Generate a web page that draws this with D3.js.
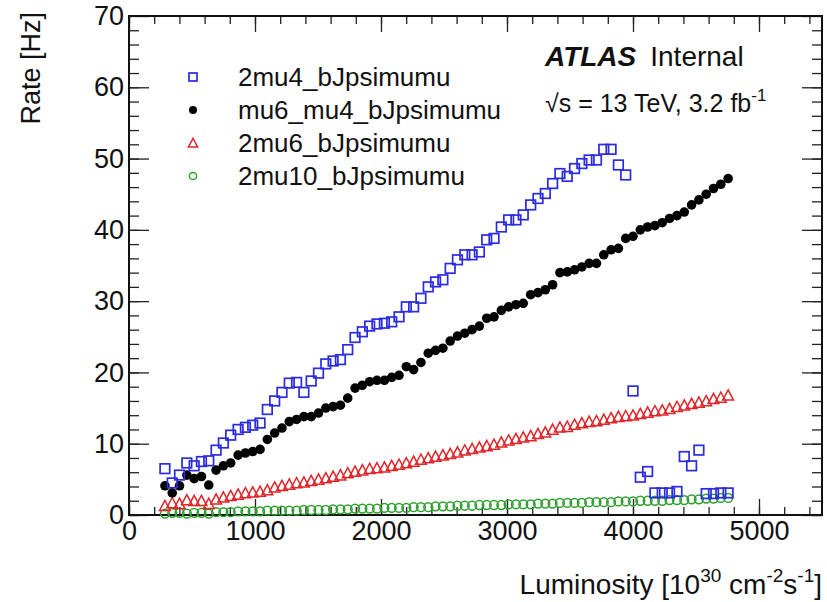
<!DOCTYPE html>
<html>
<head>
<meta charset="utf-8">
<script src="https://cdn.jsdelivr.net/npm/d3@7"></script>
<style>
  body { margin: 0; background: #fff; }
  text { font-family: "Liberation Sans", Arial, sans-serif; }
</style>
</head>
<body>
<div class="canvas"></div>
<script>
// data
var lumi = [285,343,401,459,517,575,633,691,749,807,866,924,982,1040,1098,1156,1214,1272,1330,1388,
  1446,1504,1562,1620,1678,1736,1794,1852,1910,1968,2027,2085,2143,2201,2259,2317,2375,2433,2491,2549,
  2607,2665,2723,2781,2839,2897,2955,3013,3071,3129,3188,3246,3304,3362,3420,3478,3536,3594,3652,3710,
  3768,3826,3884,3942,4000,4058,4116,4174,4232,4290,4349,4407,4465,4523,4581,4639,4697,4755];

var rate_2mu4 = [6.5,4.5,5.6,7.3,6.9,7.5,7.6,9.1,10.1,11.2,12.0,12.3,12.6,12.9,14.8,16.0,17.2,18.5,18.6,17.2,
  18.8,19.9,21.2,21.6,21.8,23.2,24.9,25.7,26.5,26.8,26.9,27.1,27.8,29.2,29.2,30.4,32.0,32.7,33.0,34.6,
  35.8,36.5,36.5,36.9,38.6,38.8,40.4,41.4,41.4,42.1,43.5,44.4,45.1,46.5,47.9,47.5,48.6,49.3,49.8,49.8,
  51.3,51.3,49.1,47.7,17.4,5.3,6.1,3.1,3.1,3.1,3.3,8.2,6.9,9.1,3.0,3.0,3.1,3.1];

var rate_mu6mu4 = [4.1,3.1,4.1,5.6,5.1,5.4,4.2,6.3,6.9,7.3,8.4,8.7,8.9,9.2,10.6,11.5,12.2,13.1,13.4,13.8,
  13.8,14.3,15.0,15.2,15.4,16.4,17.8,18.2,18.7,18.9,18.9,19.3,19.6,20.8,20.4,21.4,22.7,23.1,23.4,24.4,
  25.1,25.5,26.0,26.5,27.6,27.8,28.7,29.2,29.5,29.7,30.9,31.2,31.6,32.3,34.0,34.1,34.4,34.8,35.3,35.3,
  36.5,37.2,37.4,38.8,39.1,40.0,40.4,40.6,41.0,41.6,42.0,42.5,43.5,44.2,45.0,45.8,46.4,47.2];

var rate_2mu6 = [1.3,1.7,1.6,2.1,2.0,2.0,1.6,2.2,2.5,2.7,2.9,3.1,3.2,3.3,3.5,3.9,4.1,4.3,4.5,4.6,
  4.8,5.0,5.2,5.4,5.6,5.9,6.1,6.3,6.5,6.6,6.7,6.9,7.1,7.3,7.5,7.8,8.0,8.2,8.4,8.6,
  8.8,9.1,9.3,9.5,9.7,9.9,10.2,10.5,10.7,10.9,11.1,11.4,11.6,12.0,12.3,12.4,12.7,12.9,13.1,13.2,
  13.4,13.6,13.8,13.9,14.0,14.2,14.4,14.6,14.7,14.9,15.2,15.4,15.6,15.8,16.0,16.3,16.5,16.8];

var rate_2mu10 = [0.2,0.3,0.3,0.2,0.3,0.3,0.2,0.4,0.4,0.4,0.5,0.5,0.5,0.5,0.6,0.6,0.6,0.6,0.6,0.7,
  0.7,0.7,0.7,0.8,0.8,0.8,0.9,0.9,0.9,0.9,1.0,1.0,1.0,1.0,1.1,1.1,1.1,1.2,1.2,1.2,
  1.3,1.3,1.3,1.4,1.4,1.4,1.4,1.5,1.5,1.5,1.5,1.6,1.6,1.6,1.7,1.7,1.7,1.7,1.8,1.8,
  1.8,1.8,1.9,1.9,1.9,2.0,2.0,2.0,2.0,2.1,2.1,2.1,2.2,2.2,2.3,2.3,2.4,2.4];

var names = ["2mu4_bJpsimumu", "mu6_mu4_bJpsimumu", "2mu6_bJpsimumu", "2mu10_bJpsimumu"];
var series = [rate_2mu4, rate_mu6mu4, rate_2mu6, rate_2mu10];
var markers = ["square", "dot", "triangle", "circle"];
var colors = ["#2b2be0", "#000000", "#e0262a", "#2ea02e"];

var xTicks = [0, 1000, 2000, 3000, 4000, 5000];
var yTicks = [0, 10, 20, 30, 40, 50, 60, 70];

var svg = d3.select(".canvas").append("svg").attr("width", 827).attr("height", 602);

var frame = { left: 129, right: 822, top: 16, bottom: 515 };

var x = d3.scaleLinear().domain([0, 5500]).range([frame.left, frame.right]);
var y = d3.scaleLinear().domain([0, 70]).range([frame.bottom, frame.top]);

// axes: minor ticks first, then major with labels
function styleAxis(g) {
    g.select(".domain").remove();
    g.selectAll("line").attr("stroke", "#222").attr("stroke-width", 1.3);
    g.selectAll("text").attr("font-size", "27px").attr("fill", "#111")
        .attr("font-family", "'Liberation Sans', Arial, sans-serif");
}

var xMinor = d3.range(0, 5500, 200);
var yMinor = d3.range(0, 70, 2);

svg.append("g").attr("transform", "translate(0," + frame.bottom + ")")
    .call(d3.axisBottom(x).tickValues(xMinor).tickSize(-8).tickFormat(""))
    .call(styleAxis);
svg.append("g").attr("transform", "translate(0," + frame.bottom + ")")
    .call(d3.axisBottom(x).tickValues(xTicks).tickSize(-16).tickPadding(6).tickFormat(d3.format("d")))
    .call(styleAxis);
svg.append("g").attr("transform", "translate(0," + frame.top + ")")
    .call(d3.axisTop(x).tickValues(xMinor).tickSize(-8).tickFormat(""))
    .call(styleAxis);
svg.append("g").attr("transform", "translate(0," + frame.top + ")")
    .call(d3.axisTop(x).tickValues(xTicks).tickSize(-16).tickFormat(""))
    .call(styleAxis);

svg.append("g").attr("transform", "translate(" + frame.left + ",0)")
    .call(d3.axisLeft(y).tickValues(yMinor).tickSize(-10).tickFormat(""))
    .call(styleAxis);
svg.append("g").attr("transform", "translate(" + frame.left + ",0)")
    .call(d3.axisLeft(y).tickValues(yTicks).tickSize(-20).tickPadding(5).tickFormat(d3.format("d")))
    .call(styleAxis);
svg.append("g").attr("transform", "translate(" + frame.right + ",0)")
    .call(d3.axisRight(y).tickValues(yMinor).tickSize(-10).tickFormat(""))
    .call(styleAxis);
svg.append("g").attr("transform", "translate(" + frame.right + ",0)")
    .call(d3.axisRight(y).tickValues(yTicks).tickSize(-20).tickFormat(""))
    .call(styleAxis);

// frame
svg.append("rect")
    .attr("x", frame.left)
    .attr("y", frame.top)
    .attr("width", frame.right - frame.left)
    .attr("height", frame.bottom - frame.top)
    .attr("fill", "none")
    .attr("stroke", "#111")
    .attr("stroke-width", 2);

// marker drawing, s = half size
function drawMarker(g, type, color, cx, cy, s) {
    if (type === "square") {
        g.append("rect")
            .attr("x", cx - s).attr("y", cy - s)
            .attr("width", 2 * s).attr("height", 2 * s)
            .attr("fill", "none").attr("stroke", color).attr("stroke-width", 1.7);
    } else if (type === "dot") {
        g.append("circle")
            .attr("cx", cx).attr("cy", cy).attr("r", s)
            .attr("fill", color);
    } else if (type === "triangle") {
        g.append("path")
            .attr("d", "M" + (cx - s - 0.6) + "," + (cy + s) + "L" + (cx + s + 0.6) + "," + (cy + s) + "L" + cx + "," + (cy - s - 0.6) + "Z")
            .attr("fill", "none").attr("stroke", color).attr("stroke-width", 1.5);
    } else {
        g.append("circle")
            .attr("cx", cx).attr("cy", cy).attr("r", s - 0.4)
            .attr("fill", "none").attr("stroke", color).attr("stroke-width", 1.5);
    }
}

// draw series back to front: green, red, black, blue
[3, 2, 1, 0].forEach(function (s) {
    var g = svg.append("g");
    series[s].forEach(function (v, i) {
        drawMarker(g, markers[s], colors[s], x(lumi[i]), y(v), 4.8);
    });
});

// legend
var legend = svg.append("g");
names.forEach(function (name, i) {
    var ly = 77 + i * 33;
    drawMarker(legend, markers[i], colors[i], 193, ly, 4);
    legend.append("text")
        .attr("x", 238)
        .attr("y", ly + 9)
        .attr("font-size", "26px")
        .attr("fill", "#111")
        .text(name);
});

// ATLAS label
var atlas = svg.append("text").attr("x", 545).attr("y", 66).attr("font-size", "28px").attr("fill", "#111");
atlas.append("tspan").attr("font-weight", "bold").attr("font-style", "italic").text("ATLAS");
atlas.append("tspan").attr("dx", 14).text("Internal");

var energy = svg.append("text").attr("x", 545).attr("y", 112).attr("font-size", "25px").attr("fill", "#111");
energy.append("tspan").text("\u221As = 13 TeV, 3.2 fb");
energy.append("tspan").attr("font-size", "17px").attr("dy", -11).text("-1");

// axis titles
var xt = svg.append("text")
    .attr("x", 822)
    .attr("y", 594)
    .attr("text-anchor", "end")
    .attr("font-size", "28px")
    .attr("fill", "#111");
xt.append("tspan").text("Luminosity [10");
xt.append("tspan").attr("font-size", "19px").attr("dy", -12).text("30");
xt.append("tspan").attr("dy", 12).text(" cm");
xt.append("tspan").attr("font-size", "19px").attr("dy", -12).text("-2");
xt.append("tspan").attr("dy", 12).text("s");
xt.append("tspan").attr("font-size", "19px").attr("dy", -12).text("-1");
xt.append("tspan").attr("dy", 12).text("]");

svg.append("text")
    .attr("transform", "translate(40,12) rotate(-90)")
    .attr("text-anchor", "end")
    .attr("font-size", "27px")
    .attr("fill", "#111")
    .text("Rate [Hz]");
</script>
</body>
</html>
